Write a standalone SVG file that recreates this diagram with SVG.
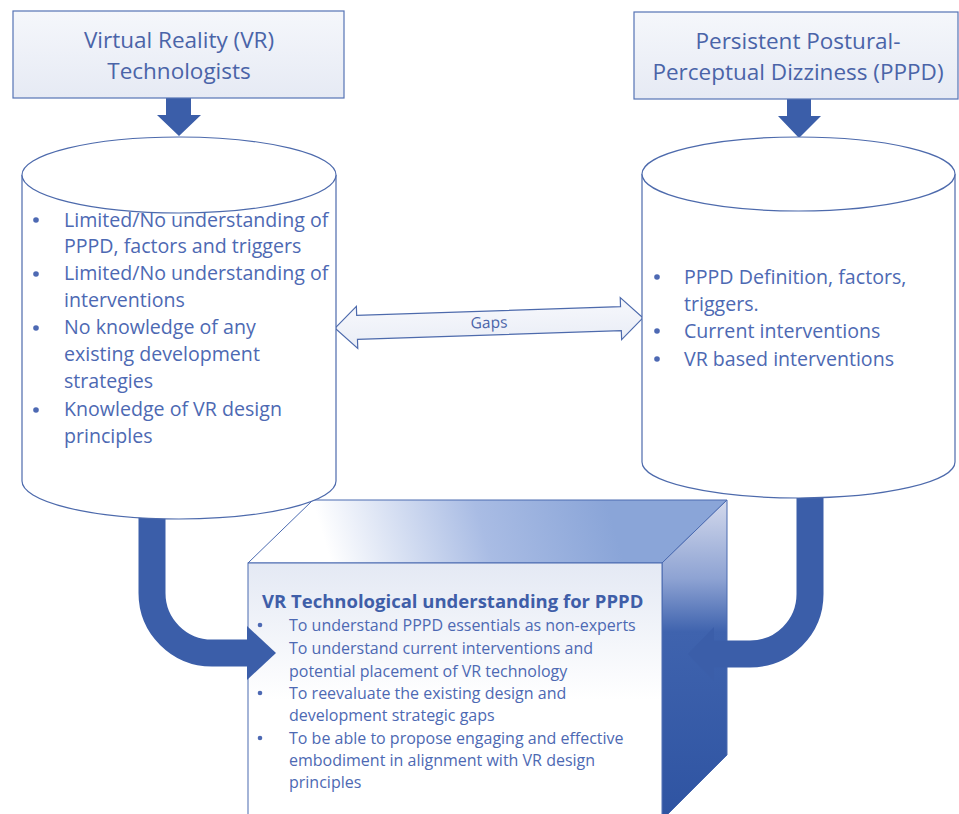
<svg xmlns="http://www.w3.org/2000/svg" width="959" height="814" viewBox="0 0 959 814">
<defs>
<linearGradient id="boxfill" x1="0" y1="0" x2="0" y2="1">
<stop offset="0" stop-color="#f5f7fb"/><stop offset="1" stop-color="#e6eaf4"/>
</linearGradient>
<linearGradient id="topface" gradientUnits="userSpaceOnUse" x1="330" y1="560" x2="600" y2="480">
<stop offset="0" stop-color="#ffffff"/><stop offset="0.55" stop-color="#a9bce4"/><stop offset="1" stop-color="#8aa5d8"/>
</linearGradient>
<linearGradient id="sideface" gradientUnits="userSpaceOnUse" x1="0" y1="500" x2="0" y2="814">
<stop offset="0" stop-color="#d3d9ec"/><stop offset="0.25" stop-color="#8ea3d3"/><stop offset="0.42" stop-color="#3f63ae"/><stop offset="1" stop-color="#2f54a2"/>
</linearGradient>
<linearGradient id="frontface" gradientUnits="userSpaceOnUse" x1="0" y1="563" x2="0" y2="700">
<stop offset="0" stop-color="#e4e9f4"/><stop offset="1" stop-color="#ffffff"/>
</linearGradient>
<linearGradient id="gapsfill" x1="0" y1="0" x2="0" y2="1">
<stop offset="0" stop-color="#f7f8fc"/><stop offset="1" stop-color="#e9edf6"/>
</linearGradient>
</defs>
<style>
.box{fill:url(#boxfill);stroke:#5573b5;stroke-width:1.2}
.cyl{fill:#ffffff;stroke:#4d6aac;stroke-width:1.2}
.title{font-family:"Open Sans","Noto Sans",sans-serif;font-size:22.5px;fill:#4a64a8;text-anchor:middle}
.t{font-family:"Open Sans","Noto Sans",sans-serif;font-size:19.6px;fill:#4d69b3}
.s{font-family:"Open Sans","Noto Sans",sans-serif;font-size:16px;fill:#4d69b3}
.sb{font-family:"Open Sans","Noto Sans",sans-serif;font-size:18.5px;font-weight:bold;fill:#3f5ea8}
.dot{fill:#4d69b3}
.band{fill:none;stroke:#3b5ea9;stroke-width:27}
.arr{fill:#3b5ea9}
.g{font-family:"Open Sans","Noto Sans",sans-serif;font-size:15.5px;fill:#4a64a8}
</style>

<g id="result-box">
<polygon points="248,563 313,500 727,500 662,563" fill="url(#topface)" stroke="#4a6ab0" stroke-width="1"/>
<polygon points="662,563 727,500 727,755 662,820" fill="url(#sideface)" stroke="#4a6ab0" stroke-width="1"/>
<rect x="248" y="563" width="414" height="260" fill="url(#frontface)" stroke="#4a6ab0" stroke-width="1"/>
<text class="sb" x="262" y="608">VR Technological understanding for PPPD</text>
<circle class="dot" cx="260" cy="625" r="2.3"/>
<text class="s" x="289" y="631">To understand PPPD essentials as non-experts</text>
<text class="s" x="289" y="654">To understand current interventions and</text>
<text class="s" x="289" y="677">potential placement of VR technology</text>
<circle class="dot" cx="260" cy="693" r="2.3"/>
<text class="s" x="289" y="699">To reevaluate the existing design and</text>
<text class="s" x="289" y="721">development strategic gaps</text>
<circle class="dot" cx="260" cy="738" r="2.3"/>
<text class="s" x="289" y="744">To be able to propose engaging and effective</text>
<text class="s" x="289" y="766">embodiment in alignment with VR design</text>
<text class="s" x="289" y="788">principles</text>
</g>

<g id="connectors">
<polygon class="arr" points="166,98 191,98 191,115 201,115 179,136 157,115 166,115"/>
<polygon class="arr" points="787,99 811,99 811,116 821,116 799,138 778,116 787,116"/>
<path class="band" d="M152,490 V593 A60,60 0 0 0 212,653 H250"/>
<polygon class="arr" points="247,626 276,653 247,680"/>
<path class="band" d="M810,470 V594 A60,60 0 0 1 750,654 H712"/>
<polygon class="arr" points="714,627 688,654 714,681"/>
<g transform="translate(489,323) rotate(-1.9)">
<polygon points="-154,0 -132,-21 -132,-12 132,-12 132,-21 154,0 132,21 132,12 -132,12 -132,21" fill="url(#gapsfill)" stroke="#4d6aac" stroke-width="1.2"/>
<text class="g" x="0" y="5" text-anchor="middle">Gaps</text>
</g>
</g>

<g id="vr-cylinder">
<path class="cyl" d="M22,175 V481 A157,38 0 0 0 336,481 V175"/>
<ellipse class="cyl" cx="179" cy="175" rx="157" ry="38"/>
<circle class="dot" cx="36" cy="220" r="2.8"/>
<text class="t" x="64" y="227">Limited/No understanding of</text>
<text class="t" x="64" y="253">PPPD, factors and triggers</text>
<circle class="dot" cx="36" cy="274" r="2.8"/>
<text class="t" x="64" y="280">Limited/No understanding of</text>
<text class="t" x="64" y="307">interventions</text>
<circle class="dot" cx="36" cy="328" r="2.8"/>
<text class="t" x="64" y="334">No knowledge of any</text>
<text class="t" x="64" y="361">existing development</text>
<text class="t" x="64" y="388">strategies</text>
<circle class="dot" cx="36" cy="410" r="2.8"/>
<text class="t" x="64" y="416">Knowledge of VR design</text>
<text class="t" x="64" y="443">principles</text>
</g>

<g id="pppd-cylinder">
<path class="cyl" d="M642,174 V462 A156.5,36 0 0 0 955,462 V174"/>
<ellipse class="cyl" cx="798.5" cy="174" rx="156.5" ry="37"/>
<circle class="dot" cx="657" cy="277" r="2.8"/>
<text class="t" x="684" y="284">PPPD Definition, factors,</text>
<text class="t" x="684" y="311">triggers.</text>
<circle class="dot" cx="657" cy="331" r="2.8"/>
<text class="t" x="684" y="338">Current interventions</text>
<circle class="dot" cx="657" cy="359" r="2.8"/>
<text class="t" x="684" y="366">VR based interventions</text>
</g>

<g id="vr-box">
<rect class="box" x="13" y="11" width="331" height="87"/>
<text class="title" x="179" y="48">Virtual Reality (VR)</text>
<text class="title" x="179" y="79">Technologists</text>
</g>

<g id="pppd-box">
<rect class="box" x="634" y="12" width="324" height="87"/>
<text class="title" x="798" y="49">Persistent Postural-</text>
<text class="title" x="798" y="80">Perceptual Dizziness (PPPD)</text>
</g>
</svg>
